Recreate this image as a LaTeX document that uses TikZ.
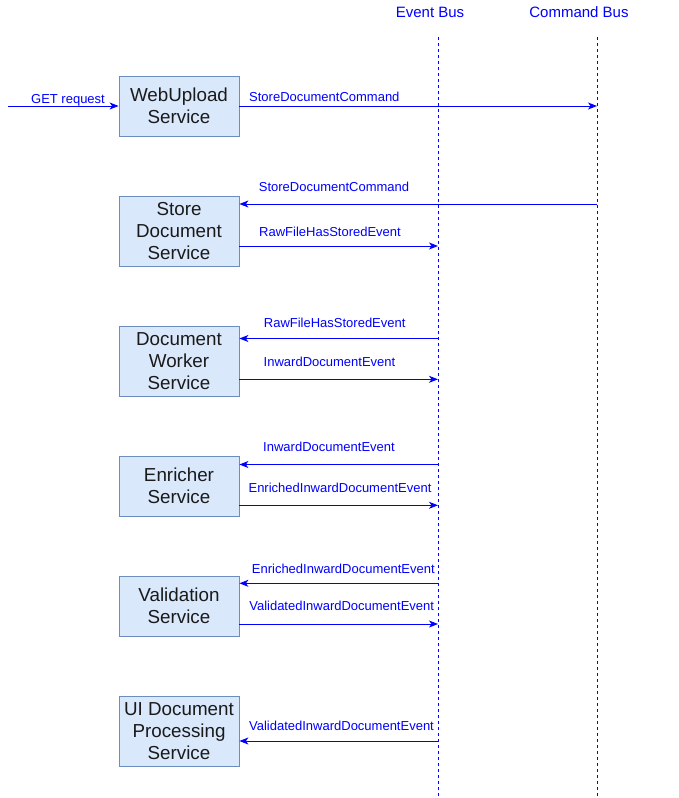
\documentclass[tikz,border=0pt]{standalone}
\usepackage{fontspec}
\setmainfont{Liberation Sans}
\usetikzlibrary{arrows.meta}
\definecolor{boxfill}{HTML}{DAE8FC}
\definecolor{boxline}{HTML}{6C8EBF}
\definecolor{msgblue}{HTML}{0000FF}
\definecolor{boxtext}{HTML}{1A1A1A}
\tikzset{
  svc/.style={draw=boxline, fill=boxfill, line width=0.8pt, minimum width=120pt, inner sep=0pt,
    align=center, text=boxtext, font=\fontsize{18.8}{22}\selectfont},
  busline/.style={msgblue, line width=0.8pt, dash pattern=on 3pt off 3pt},
  msg/.style={msgblue, line width=1pt, -{Stealth[length=9pt,width=7pt,inset=2.5pt]}},
  lbl/.style={text=msgblue, font=\fontsize{13}{15}\selectfont, anchor=base, inner sep=0pt},
  hdr/.style={text=msgblue, font=\fontsize{15}{18}\selectfont, anchor=base, inner sep=0pt}
}
\begin{document}
\begin{tikzpicture}[x=1pt,y=-1pt]
\useasboundingbox (0,0) rectangle (678,798);
% buses
\node[hdr] (ebh) at (430,17.5) {Event Bus};
\node[hdr] (cbh) at (579,17.5) {Command Bus};
\coordinate (ebt) at (438,37);
\coordinate (ebb) at (438,798);
\coordinate (cbt) at (597,37);
\coordinate (cbb) at (597,798);
\draw[busline] (ebt) -- (ebb);
\draw[busline] (cbt) -- (cbb);
% services
\node[svc, minimum height=60pt] (b1) at (179,106) {WebUpload\\Service};
\node[svc, minimum height=70pt] (b2) at (179,231) {Store\\Document\\Service};
\node[svc, minimum height=70pt] (b3) at (179,361) {Document\\Worker\\Service};
\node[svc, minimum height=60pt] (b4) at (179,486) {Enricher\\Service};
\node[svc, minimum height=60pt] (b5) at (179,606) {Validation\\Service};
\node[svc, minimum height=70pt] (b6) at (179,731) {UI Document\\Processing\\Service};
% endpoints
\coordinate (src) at (8,106);
\coordinate (c1) at (597,106);
\coordinate (c2) at (597,204);
\coordinate (e2) at (438,246);
\coordinate (e3a) at (438,338.5);
\coordinate (e3b) at (438,379.3);
\coordinate (e4a) at (438,464.5);
\coordinate (e4b) at (438,505.3);
\coordinate (e5a) at (438,583.3);
\coordinate (e5b) at (438,624);
\coordinate (e6) at (438,741);
% messages
\draw[msg] (src) -- (b1.west |- src);
\node[lbl] (l0) at (68,103) {GET request};
\draw[msg] (b1.east |- c1) -- (c1);
\node[lbl, anchor=base west] (l1) at (249,101.5) {StoreDocumentCommand};
\draw[msg] (c2) -- (b2.east |- c2);
\node[lbl] (l2) at (334,191) {StoreDocumentCommand};
\draw[msg] (b2.east |- e2) -- (e2);
\node[lbl] (l3) at (330,236) {RawFileHasStoredEvent};
\draw[msg] (e3a) -- (b3.east |- e3a);
\node[lbl] (l4) at (334.7,327.7) {RawFileHasStoredEvent};
\draw[msg] (b3.east |- e3b) -- (e3b);
\node[lbl] (l5) at (329.5,366.3) {InwardDocumentEvent};
\draw[msg] (e4a) -- (b4.east |- e4a);
\node[lbl] (l6) at (329,451.3) {InwardDocumentEvent};
\draw[msg] (b4.east |- e4b) -- (e4b);
\node[lbl] (l7) at (340,492.3) {EnrichedInwardDocumentEvent};
\draw[msg] (e5a) -- (b5.east |- e5a);
\node[lbl] (l8) at (343.3,573) {EnrichedInwardDocumentEvent};
\draw[msg] (b5.east |- e5b) -- (e5b);
\node[lbl] (l9) at (341.7,610.3) {ValidatedInwardDocumentEvent};
\draw[msg] (e6) -- (b6.east |- e6);
\node[lbl] (l10) at (341.5,730.7) {ValidatedInwardDocumentEvent};
\end{tikzpicture}
\end{document}
